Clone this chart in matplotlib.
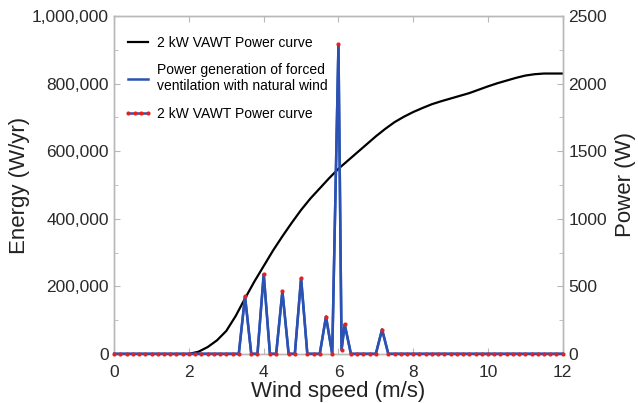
import numpy as np
import matplotlib
matplotlib.use('Agg')
import matplotlib.pyplot as plt
from matplotlib.ticker import FuncFormatter, MultipleLocator

plt.rcParams['font.family'] = ['Liberation Sans', 'DejaVu Sans']

curve_speed = [2.0, 2.25, 2.5, 2.75, 3.0, 3.25, 3.5, 3.75, 4.0, 4.25, 4.5,
               4.75, 5.0, 5.25, 5.5, 5.75, 6.0, 6.25, 6.5, 6.75, 7.0, 7.25,
               7.5, 7.75, 8.0, 8.25, 8.5, 8.75, 9.0, 9.25, 9.5, 9.75, 10.0,
               10.25, 10.5, 10.75, 11.0, 11.25, 11.5, 11.75, 12.0]
curve_power = [0, 15, 50, 100, 170, 280, 410, 535, 650, 765, 870,
               970, 1065, 1150, 1225, 1300, 1370, 1430, 1490, 1550, 1610, 1665,
               1715, 1755, 1790, 1820, 1848, 1870, 1890, 1910, 1930, 1955, 1980,
               2003, 2023, 2043, 2060, 2070, 2075, 2075, 2075]

# energy of forced ventilation with natural wind (W/yr), sampled every 1/6 m/s
gen_speed = list(np.round(np.arange(0, 73) / 6.0, 4))
gen_energy = [0] * 73
peak_idx = [21, 24, 27, 30, 34, 36, 37, 43]
peak_energy = [170000, 236000, 185000, 224000, 110000, 916000, 87000, 72000]
for i, e in zip(peak_idx, peak_energy):
    gen_energy[i] = e
# small dip recorded between the 6.0 and 6.17 m/s samples
gen_speed.insert(37, 6.083)
gen_energy.insert(37, 12000)

fig = plt.figure(figsize=(6.38, 4.03), dpi=100)
ax = fig.add_axes([0.179, 0.122, 0.703, 0.838])
ax2 = ax.twinx()
ax.set_zorder(ax2.get_zorder() + 1)
ax.patch.set_visible(False)

l1, = ax2.plot(curve_speed, curve_power, color='black', lw=1.6)
l2, = ax.plot(gen_speed, gen_energy, color='#2b52b3', lw=1.8, clip_on=False,
              zorder=3)
l3, = ax.plot(gen_speed, gen_energy, color='#2b52b3', lw=1.8, clip_on=False,
              marker='o', ms=3.0, mfc='#e8201c', mec='#e8201c',
              markeredgewidth=0, zorder=4)

ax.set_xlim(0, 12)
ax.set_ylim(0, 1000000)
ax2.set_ylim(0, 2500)

ax.xaxis.set_major_locator(MultipleLocator(2))
ax.yaxis.set_major_locator(MultipleLocator(200000))
ax.yaxis.set_minor_locator(MultipleLocator(100000))
ax.yaxis.set_major_formatter(FuncFormatter(lambda v, p: f'{int(v):,}'))
ax2.yaxis.set_major_locator(MultipleLocator(500))
ax2.yaxis.set_minor_locator(MultipleLocator(250))

for a in (ax, ax2):
    for s in a.spines.values():
        s.set_color('#b8b8b8')
        s.set_linewidth(1.0)
    a.tick_params(which='both', direction='in', color='#b8b8b8',
                  labelsize=12.5, labelcolor='#2a2a2a', pad=4)
    a.tick_params(which='major', length=4)
    a.tick_params(which='minor', length=3)
ax.tick_params(axis='x', top=True, pad=8)
ax.tick_params(axis='y', right=False, which='both')

ax.set_xlabel('Wind speed (m/s)', fontsize=16, labelpad=1, color='#222222')
ax.set_ylabel('Energy (W/yr)', fontsize=16, labelpad=1, color='#222222')
ax2.set_ylabel('Power (W)', fontsize=16, labelpad=6, color='#222222')

ax.legend([l1, l2, l3],
          ['2 kW VAWT Power curve',
           'Power generation of forced\nventilation with natural wind',
           '2 kW VAWT Power curve'],
          loc='upper left', frameon=False, fontsize=10, numpoints=4,
          handlelength=2.0, handletextpad=0.4, labelspacing=0.95,
          borderaxespad=0.3, bbox_to_anchor=(0.0, 0.97))

plt.savefig('out.png', dpi=100)
